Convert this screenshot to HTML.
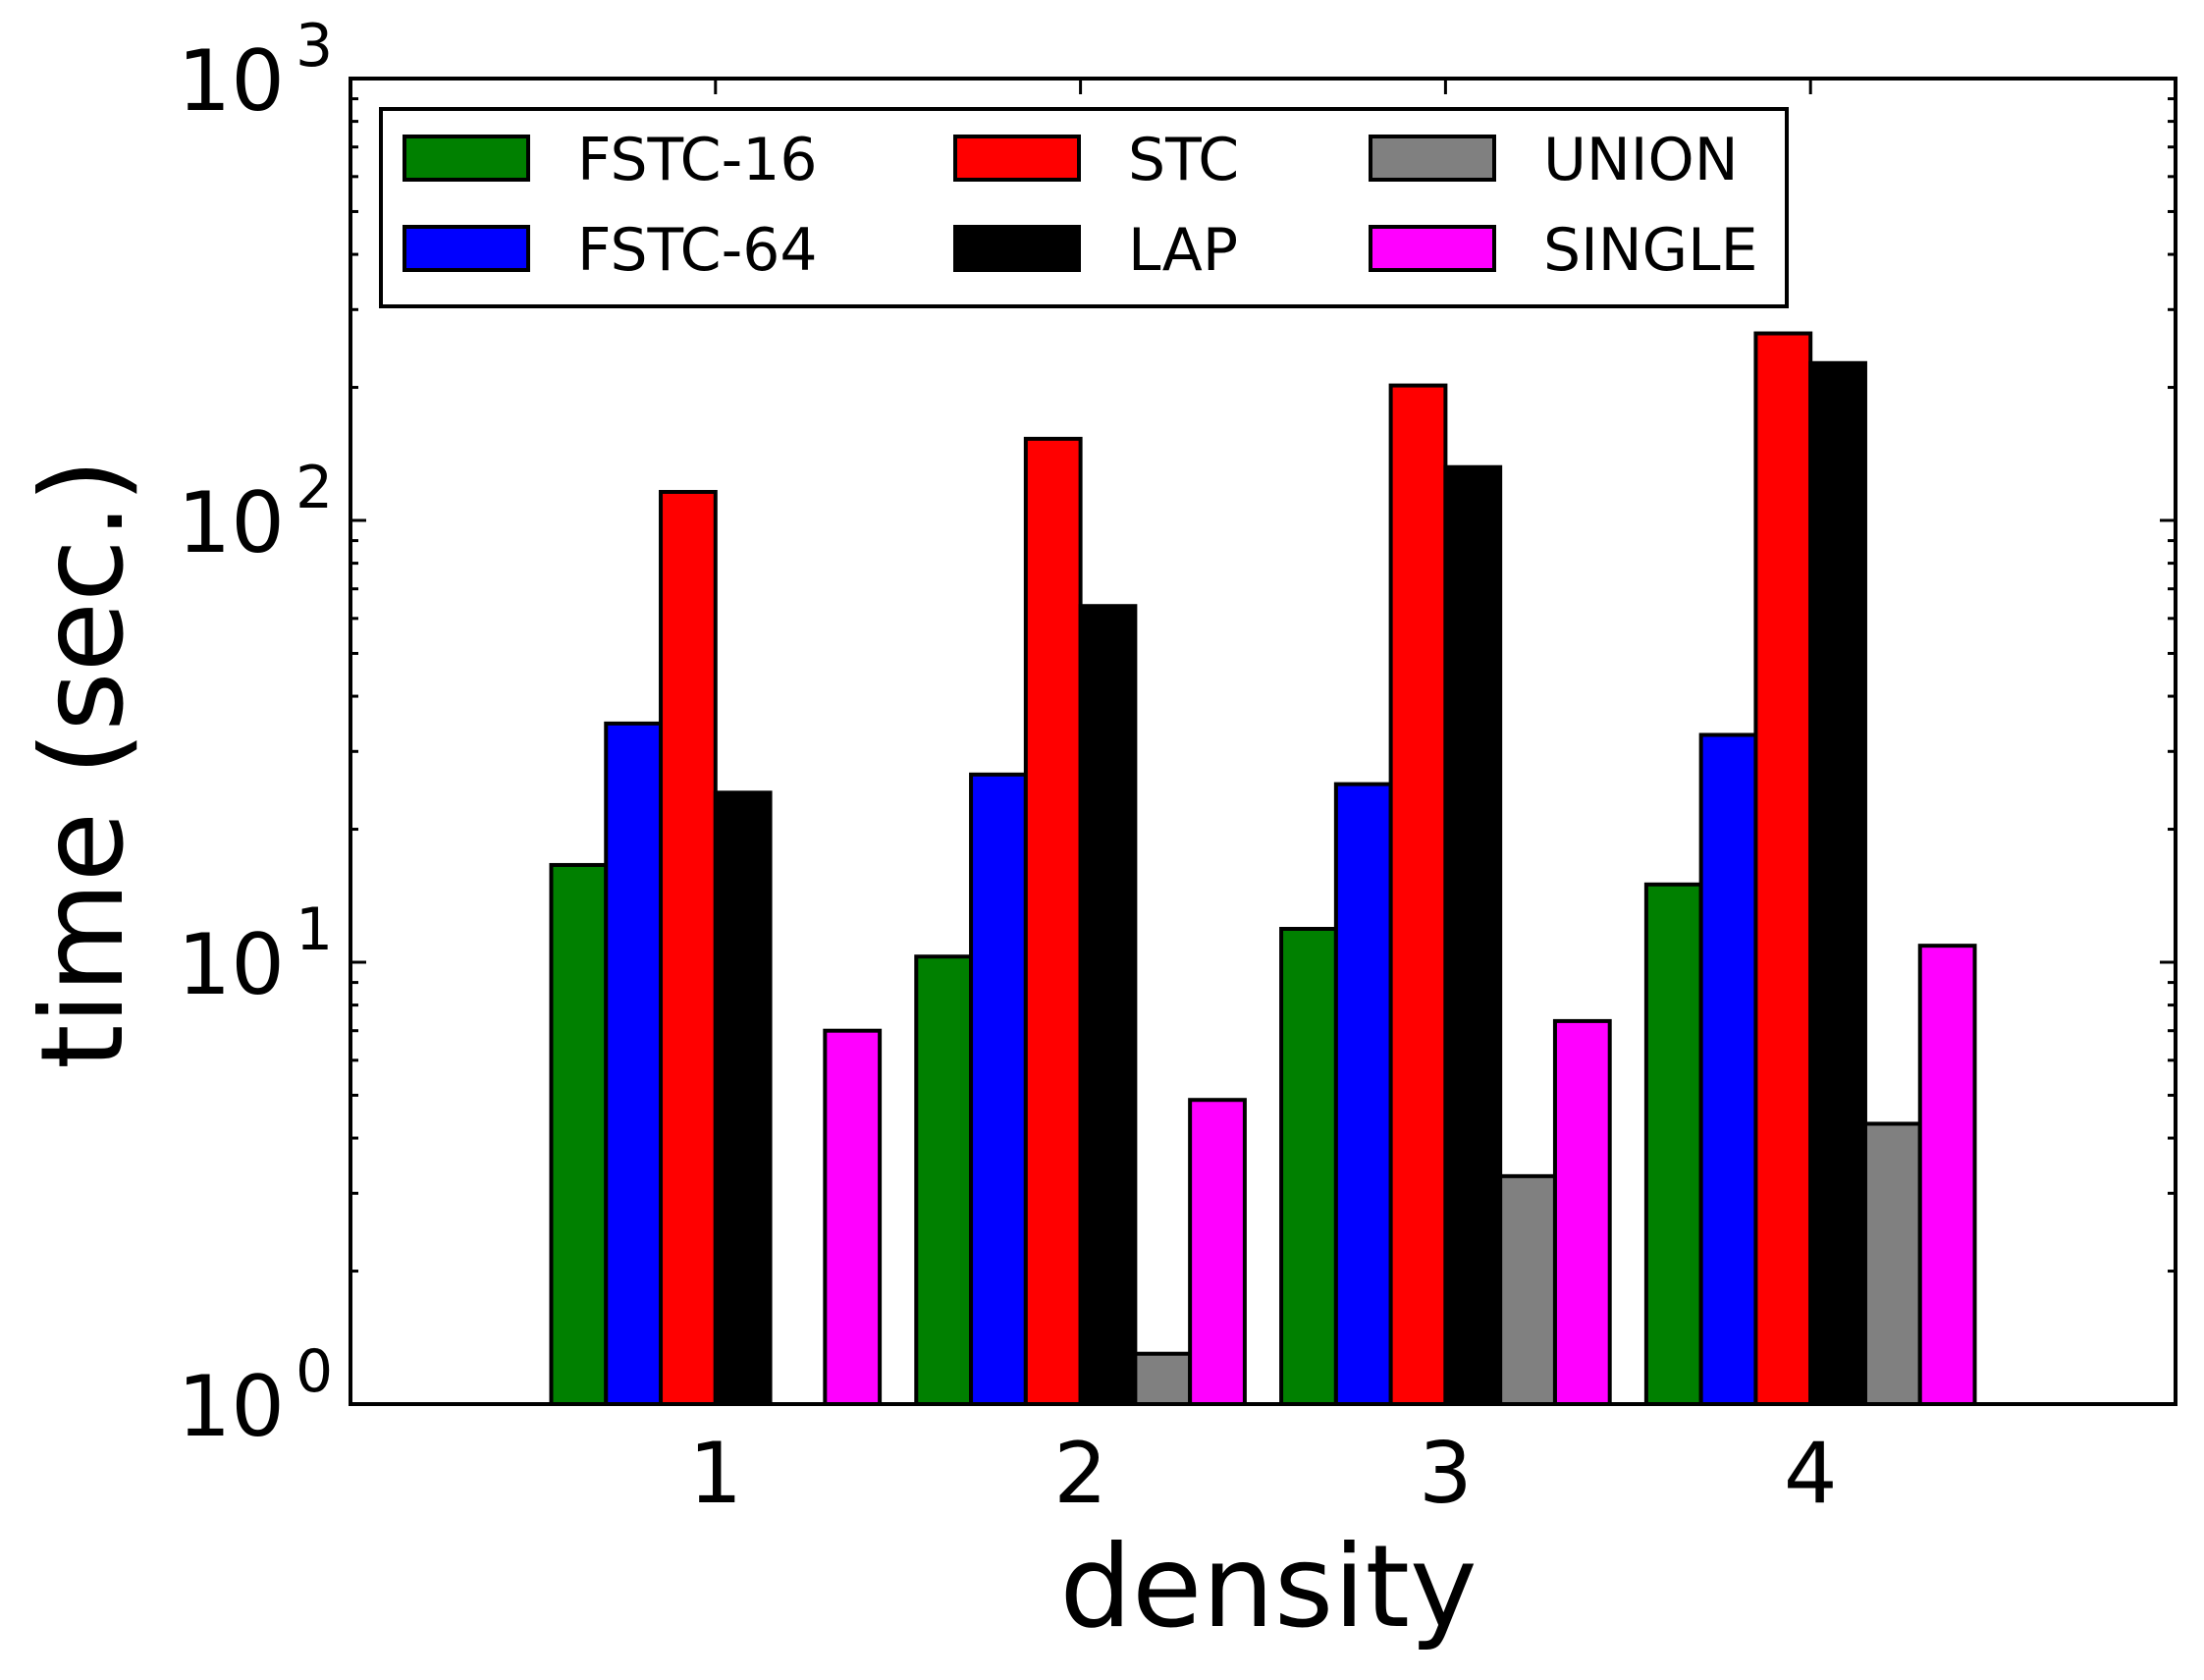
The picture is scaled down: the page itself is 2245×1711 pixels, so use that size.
<!DOCTYPE html>
<html><head><meta charset="utf-8"><style>
html,body{margin:0;padding:0;background:#fff}
svg{display:block}
text{font-family:"DejaVu Sans","Liberation Sans",sans-serif;fill:#000}
</style></head><body>
<svg id="chart" width="2245" height="1711" viewBox="0 0 2245 1711" xmlns="http://www.w3.org/2000/svg">
<g id="bars"></g>
<g id="axes"></g>
<g id="legend"></g>
</svg>
<script>
const categories = [1, 2, 3, 4];
const seriesNames = ["FSTC-16", "FSTC-64", "STC", "LAP", "UNION", "SINGLE"];
const seriesColors = ["#008000", "#0000ff", "#ff0000", "#000000", "#808080", "#ff00ff"];
const fstc16 = [16.6, 10.3, 11.9, 15.0];
const fstc64 = [34.7, 26.6, 25.3, 32.7];
const stc = [116, 153, 202, 265];
const lap = [24.2, 64, 132, 227];
const union = [0, 1.30, 3.28, 4.31];
const single = [7.0, 4.88, 7.36, 10.9];
const yTickExps = [0, 1, 2, 3];

const series = [fstc16, fstc64, stc, lap, union, single];
const NS = "http://www.w3.org/2000/svg";
const L = 357, R = 2216, T = 80, B = 1430;
const xMin = 0, xMax = 5, yMinE = 0, yMaxE = 3;
const barW = 0.15;
function xs(v){ return L + (v - xMin) / (xMax - xMin) * (R - L); }
function ys(v){ return B - (Math.log10(v) - yMinE) / (yMaxE - yMinE) * (B - T); }
function mk(tag, attrs, parent){ const e = document.createElementNS(NS, tag); for (const k in attrs) e.setAttribute(k, attrs[k]); parent.appendChild(e); return e; }

const gb = document.getElementById('bars');
series.forEach((vals, s) => {
  vals.forEach((v, i) => {
    if (!(v > 1)) return;
    const x0 = xs(categories[i] - 0.45 + s * barW), x1 = xs(categories[i] - 0.45 + (s + 1) * barW);
    const r = mk('rect', {x: x0, y: ys(v), width: x1 - x0, height: B - ys(v), fill: seriesColors[s], stroke: '#000', 'stroke-width': 4}, gb);
    
    
  });
});

const ga = document.getElementById('axes');
categories.forEach(c => {
  const x = xs(c);
  mk('line', {x1: x, x2: x, y1: B, y2: B - 16, stroke: '#000', 'stroke-width': 3}, ga);
  mk('line', {x1: x, x2: x, y1: T, y2: T + 16, stroke: '#000', 'stroke-width': 3}, ga);
  const t = mk('text', {x: x, y: B + 100, 'font-size': 86, 'text-anchor': 'middle'}, ga);
  t.textContent = c;
  
  
});
for (let e = yMinE; e < yMaxE; e++) {
  for (let m = 2; m <= 9; m++) {
    const y = ys(m * Math.pow(10, e));
    mk('line', {x1: L, x2: L + 8, y1: y, y2: y, stroke: '#000', 'stroke-width': 3}, ga);
    mk('line', {x1: R, x2: R - 8, y1: y, y2: y, stroke: '#000', 'stroke-width': 3}, ga);
  }
}
yTickExps.forEach(e => {
  const y = ys(Math.pow(10, e));
  mk('line', {x1: L, x2: L + 16, y1: y, y2: y, stroke: '#000', 'stroke-width': 3}, ga);
  mk('line', {x1: R, x2: R - 16, y1: y, y2: y, stroke: '#000', 'stroke-width': 3}, ga);
  const t = mk('text', {x: 290, y: y + 32, 'font-size': 86, 'text-anchor': 'end'}, ga);
  t.textContent = '10';
  
  
  const s = mk('text', {x: 301, y: y - 13, 'font-size': 60}, ga);
  s.textContent = e;
  
  
});
const frame = mk('rect', {x: L, y: T, width: R - L, height: B - T, fill: 'none', stroke: '#000', 'stroke-width': 4}, ga);


const xl = mk('text', {x: 1292, y: 1656, 'font-size': 116, 'text-anchor': 'middle'}, ga);
xl.textContent = 'density';


const yl = mk('text', {x: 0, y: 0, 'font-size': 116, 'text-anchor': 'middle', transform: 'translate(124,778) rotate(-90)'}, ga);
yl.textContent = 'time (sec.)';



const gl = document.getElementById('legend');
const box = mk('rect', {x: 388, y: 111, width: 1442 - 10, height: 201, fill: '#fff', stroke: '#000', 'stroke-width': 4}, gl);


const colX = [412, 973, 1396];
const rowY = [139, 231];
seriesNames.forEach((n, i) => {
  const col = Math.floor(i / 2), row = i % 2;
  const g = mk('g', {}, gl);
  
  
  mk('rect', {x: colX[col], y: rowY[row], width: 126, height: 44, fill: seriesColors[i], stroke: '#000', 'stroke-width': 4}, g);
  const t = mk('text', {x: colX[col] + 176, y: rowY[row] + 44, 'font-size': 60}, g);
  t.textContent = n;
});
</script>
</body></html>
